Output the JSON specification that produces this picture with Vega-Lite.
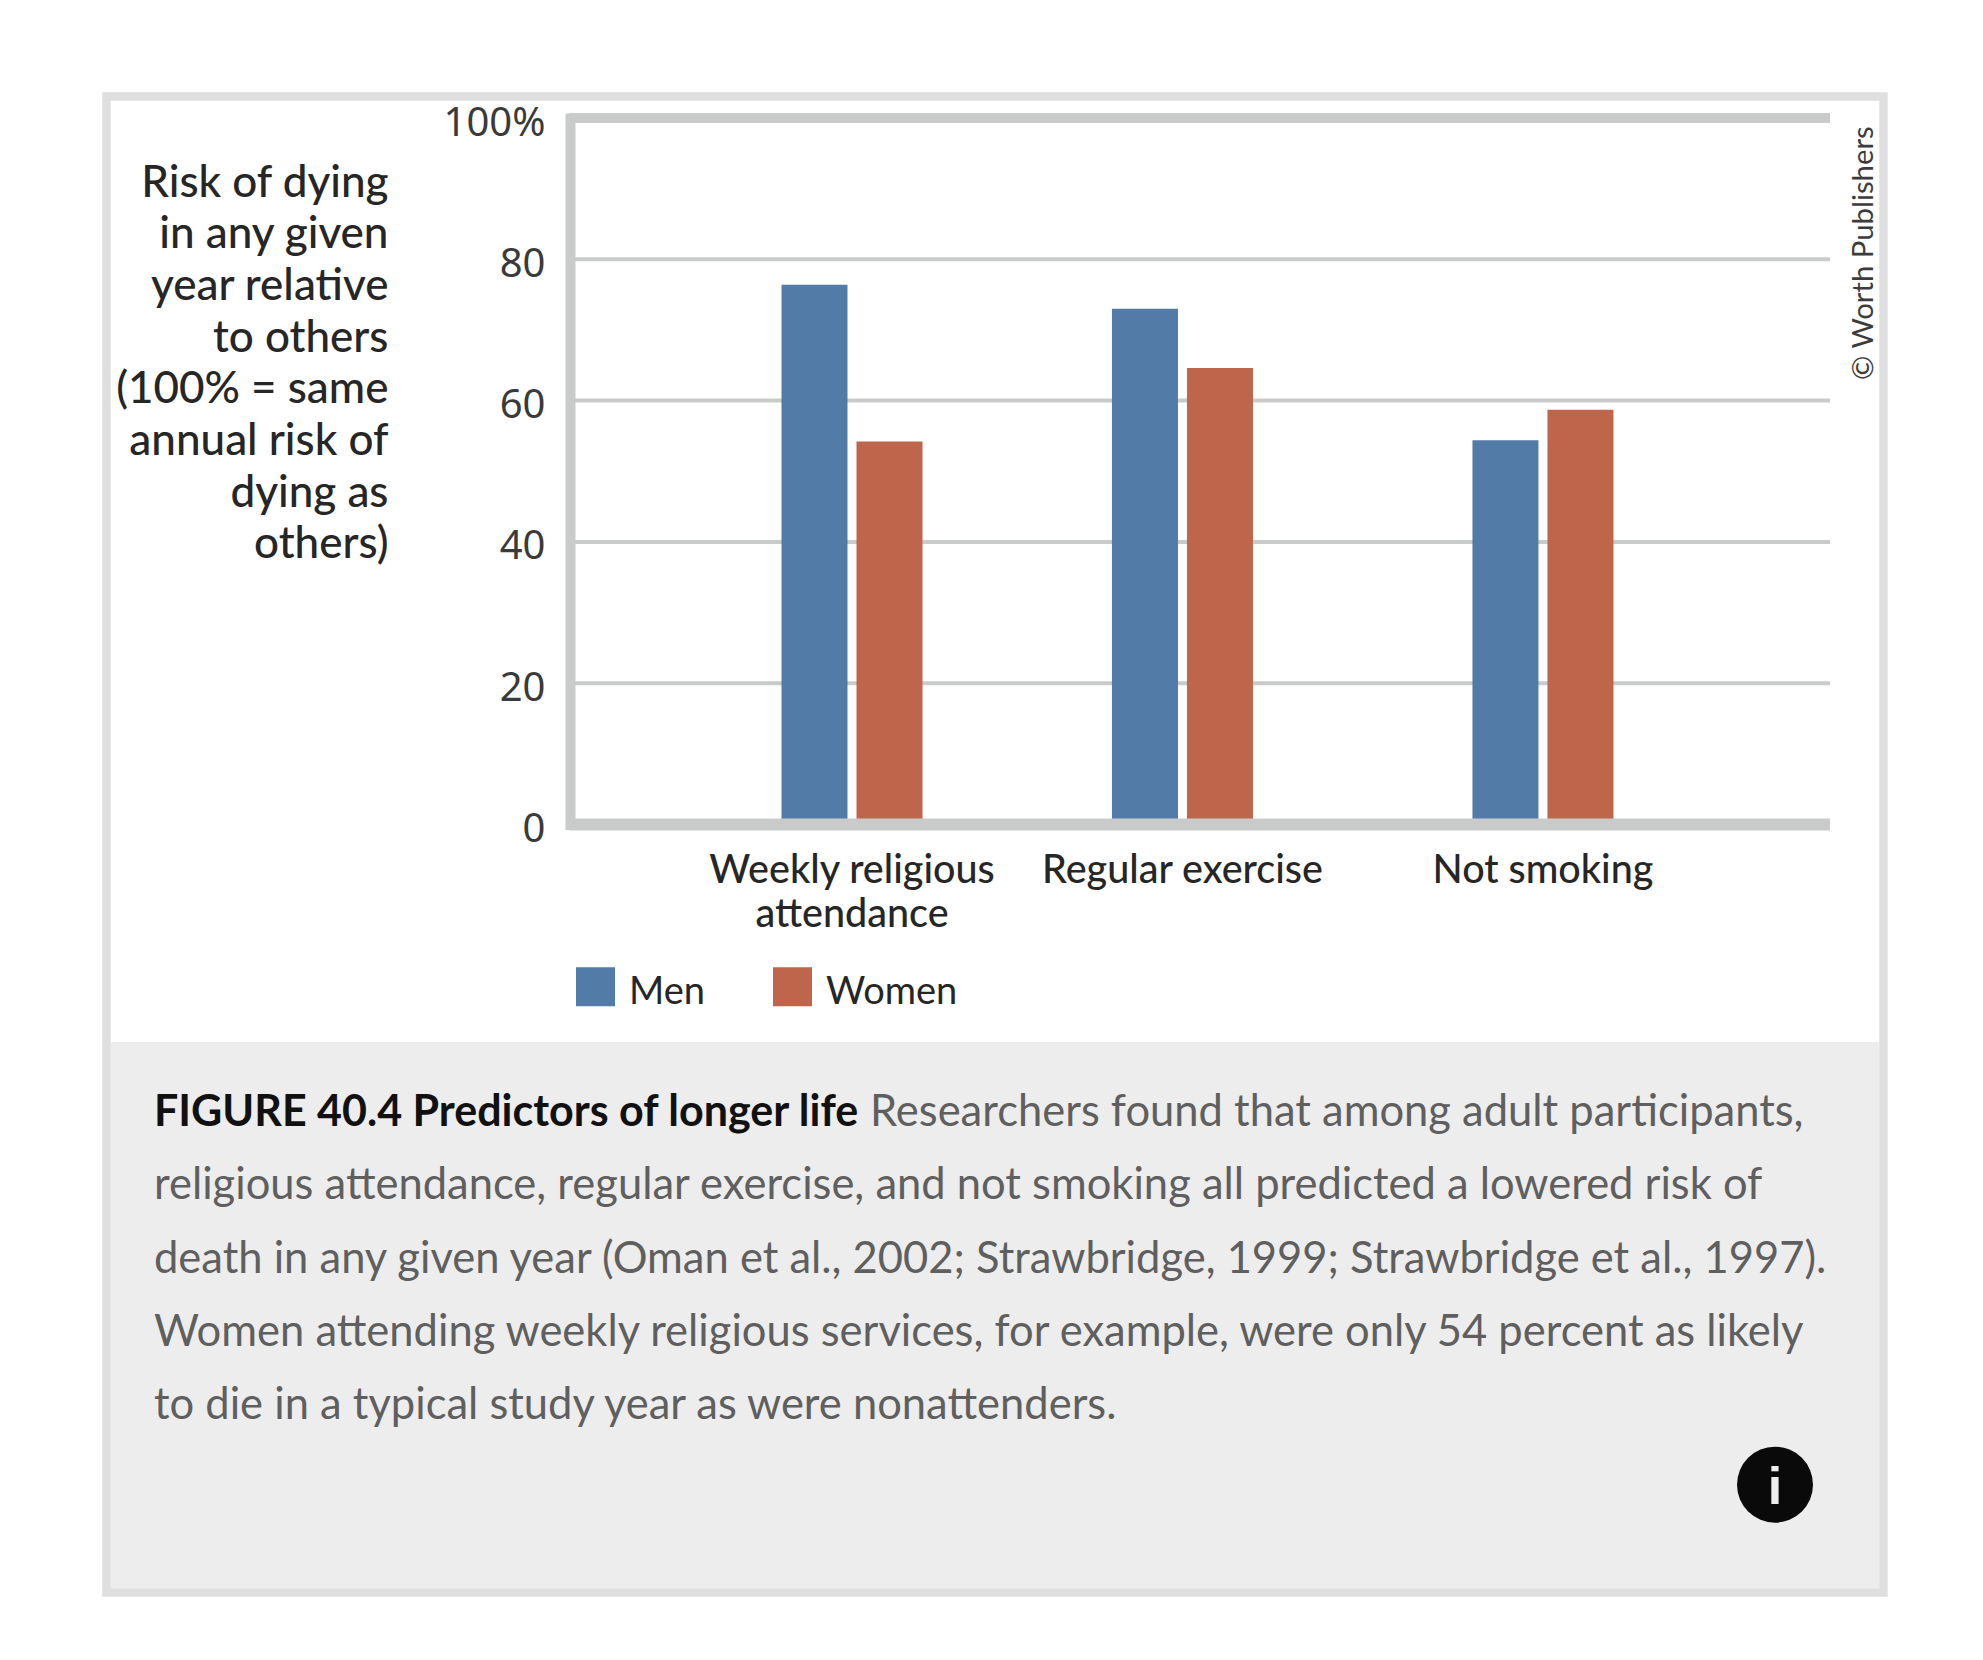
{
"$schema":"https://vega.github.io/schema/vega-lite/v6.json",
"background":"#ffffff",
"autosize":"none",
"padding":{"left":570,"top":118,"right":153,"bottom":835.5},
"width":1260,"height":706.5,
"config":{"view":{"stroke":null},"font":"Lato"},
"resolve":{"scale":{"x":"independent","y":"independent"}},
"layer":[
{"data":{"values":[{"part":"caption"}]},"mark":{"type":"rect","fill":"#ededed"},
 "encoding":{"x":{"datum":0,"type":"quantitative","scale":{"domain":[0,1],"range":[-459,1309]},"axis":null},"x2":{"datum":1},
 "y":{"datum":0,"type":"quantitative","scale":{"domain":[0,1],"range":[1470,924]},"axis":null},"y2":{"datum":1}}},
{"data":{"values":[{"part":"frame"}]},"mark":{"type":"rect","fill":"transparent","stroke":"#dfdfdf","strokeWidth":8.5},
 "encoding":{"x":{"datum":0,"type":"quantitative","scale":{"domain":[0,1],"range":[-463.5,1313.5]},"axis":null},"x2":{"datum":1},
 "y":{"datum":0,"type":"quantitative","scale":{"domain":[0,1],"range":[1474.5,-21.5]},"axis":null},"y2":{"datum":1}}},
{"data":{"values":[
 {"category":"Weekly religious attendance","sex":"Men","risk":76.4},
 {"category":"Weekly religious attendance","sex":"Women","risk":54.2},
 {"category":"Regular exercise","sex":"Men","risk":73},
 {"category":"Regular exercise","sex":"Women","risk":64.6},
 {"category":"Not smoking","sex":"Men","risk":54.4},
 {"category":"Not smoking","sex":"Women","risk":58.7}]},
 "layer":[
 {"data":{"values":[{"value":20},{"value":40},{"value":60},{"value":80}]},"mark":{"type":"rule","color":"#c9cbcb","strokeWidth":4},"encoding":{"y":{"field":"value","type":"quantitative"}}},
 {"mark":{"type":"bar"},
  "encoding":{
  "x":{"field":"category","type":"nominal","sort":null,
   "scale":{"domain":["Weekly religious attendance","a1","a2","a3","a4","a5","a6","a7","a8","a9","a10","Regular exercise","b1","b2","b3","b4","b5","b6","b7","b8","b9","b10","b11","Not smoking"],"range":[267,988],"paddingInner":0,"paddingOuter":0},
   "axis":{"title":null,"values":["Weekly religious attendance","Regular exercise","Not smoking"],"domain":false,"ticks":false,"grid":false,"labelAngle":0,"labelFont":"Lato","labelFontSize":39.5,"labelFontWeight":500,"labelColor":"#262626","labelPadding":58,"labelBaseline":"alphabetic","labelLineHeight":44,"labelOverlap":false,"labelBound":false,"labelFlush":false,"labelLimit":0,
    "labelExpr":"datum.label=='Weekly religious attendance'?['Weekly religious','attendance']:datum.label"}},
  "xOffset":{"field":"sex","type":"nominal","scale":{"domain":["Men","Women"],"range":[-55.5,85.5],"paddingInner":0.12,"paddingOuter":0}},
  "y":{"field":"risk","type":"quantitative","scale":{"domain":[0,100],"nice":false},
   "axis":{"values":[0,20,40,60,80,100],"title":["Risk of dying","in any given","year relative","to others","(100% = same","annual risk of","dying as","others)"],
    "titleAngle":0,"titleAlign":"right","titleBaseline":"alphabetic","titleX":-182,"titleY":78,"titleFont":"Lato","titleFontSize":44,"titleFontWeight":500,"titleColor":"#262626","titleLineHeight":51.7,
    "domain":true,"domainColor":"#c9cbcb","domainWidth":10,"domainCap":"square","ticks":false,
    "grid":false,
    "labelFont":"Noto Sans","labelFontSize":40,"labelColor":"#3a3a3a","labelPadding":25,"labelOffset":5,"labelBound":false,"labelFlush":false,"labelOverlap":false,
    "labelExpr":"datum.value==100?'100%':datum.label"}},
  "color":{"field":"sex","type":"nominal","scale":{"domain":["Men","Women"],"range":["#527ba8","#bf654c"]},
   "legend":{"title":null,"orient":"none","legendX":6,"legendY":849,"direction":"horizontal","columns":2,"symbolType":"square","symbolSize":1521,"symbolStrokeWidth":0,"labelFont":"Lato","labelFontSize":38,"labelColor":"#262626","labelOffset":14,"columnPadding":68,"labelLimit":0,"encode":{"labels":{"update":{"dy":{"value":6}}}}}}}},
 {"data":{"values":[{"line":"top","value":100}]},"mark":{"type":"rule","color":"#c9cbcb","strokeWidth":10},"encoding":{"y":{"field":"value","type":"quantitative"}}},
 {"data":{"values":[{"line":"baseline","value":0}]},"mark":{"type":"rule","color":"#c9cbcb","strokeWidth":12},"encoding":{"y":{"field":"value","type":"quantitative"}}}
 ]},
{"data":{"values":[{"note":"© Worth Publishers"}]},"mark":{"type":"text","angle":270,"align":"left","baseline":"middle","font":"Lato","fontSize":29.3,"color":"#3c3c3c"},
 "encoding":{"text":{"field":"note"},
 "x":{"datum":0,"type":"quantitative","scale":{"domain":[0,1],"range":[1294,1295]},"axis":null},
 "y":{"datum":0,"type":"quantitative","scale":{"domain":[0,1],"range":[262,8]},"axis":null}}},
{"data":{"values":[{"line":1,"col":"a","text":"FIGURE 40.4 Predictors of longer life"}]},"mark":{"type":"text","align":"left","baseline":"alphabetic","font":"Lato","fontWeight":"bold","fontSize":43,"color":"#111111"},
 "encoding":{"text":{"field":"text"},
 "x":{"field":"col","type":"nominal","scale":{"type":"point","domain":["a","b"],"range":[-416,300],"padding":0},"axis":null},
 "y":{"field":"line","type":"ordinal","scale":{"type":"point","domain":[1,2,3,4,5],"range":[1008,1301],"padding":0},"axis":null}}},
{"data":{"values":[
 {"line":1,"col":"b","text":"Researchers found that among adult participants,"},
 {"line":2,"col":"a","text":"religious attendance, regular exercise, and not smoking all predicted a lowered risk of"},
 {"line":3,"col":"a","text":"death in any given year (Oman et al., 2002; Strawbridge, 1999; Strawbridge et al., 1997)."},
 {"line":4,"col":"a","text":"Women attending weekly religious services, for example, were only 54 percent as likely"},
 {"line":5,"col":"a","text":"to die in a typical study year as were nonattenders."}]},
 "mark":{"type":"text","align":"left","baseline":"alphabetic","font":"Lato","fontSize":43.5,"color":"#5f5f5f"},
 "encoding":{"text":{"field":"text"},
 "x":{"field":"col","type":"nominal","scale":{"type":"point","domain":["a","b"],"range":[-416,300],"padding":0},"axis":null},
 "y":{"field":"line","type":"ordinal","scale":{"type":"point","domain":[1,2,3,4,5],"range":[1008,1301],"padding":0},"axis":null}}},
{"data":{"values":[{"icon":"info"}]},"mark":{"type":"point","shape":"circle","filled":true,"size":5776,"color":"#0a0a0a","opacity":1},
 "encoding":{"x":{"datum":0,"type":"quantitative","scale":{"domain":[0,1],"range":[1205,1206]},"axis":null},
 "y":{"datum":0,"type":"quantitative","scale":{"domain":[0,1],"range":[1366.7,1365]},"axis":null}}},
{"data":{"values":[{"icon":"i"}]},"mark":{"type":"text","align":"center","baseline":"alphabetic","font":"Liberation Sans","fontWeight":"bold","fontSize":52,"color":"#eeeeee"},
 "encoding":{"text":{"field":"icon"},"x":{"datum":0,"type":"quantitative","scale":{"domain":[0,1],"range":[1205,1206]},"axis":null},
 "y":{"datum":0,"type":"quantitative","scale":{"domain":[0,1],"range":[1386,1385]},"axis":null}}}
]}
